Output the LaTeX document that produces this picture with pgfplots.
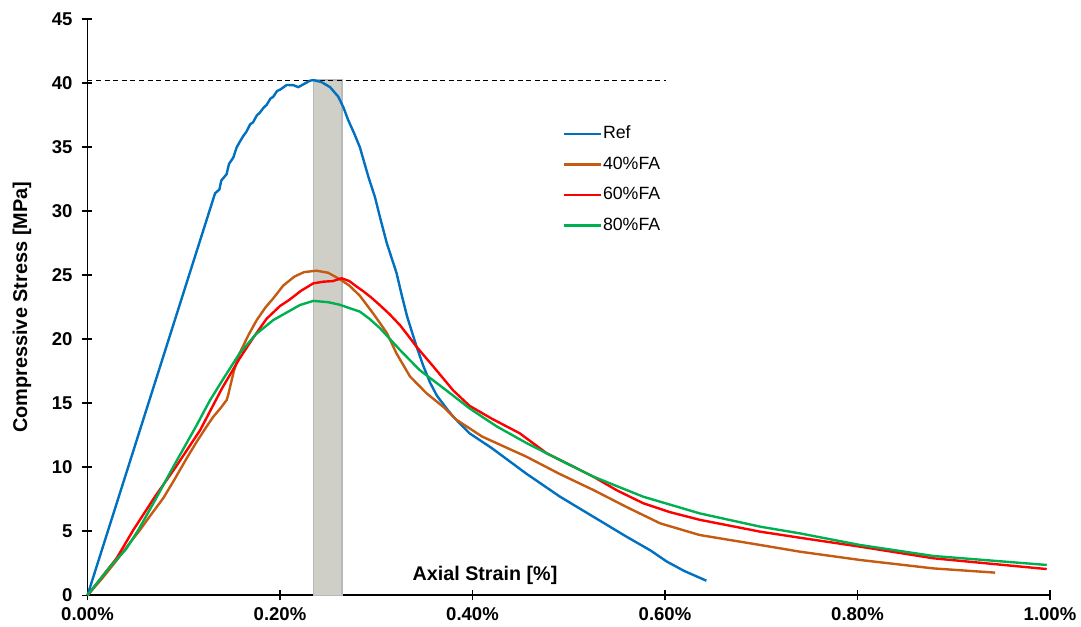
\documentclass[border=0pt]{standalone}
\usepackage{pgfplots}
\pgfplotsset{compat=1.18}
\usepackage{fontspec}
\setmainfont{Liberation Sans}
\definecolor{cRef}{RGB}{0,112,192}
\definecolor{c40}{RGB}{197,90,17}
\definecolor{c60}{RGB}{255,0,0}
\definecolor{c80}{RGB}{0,176,80}
\definecolor{band}{RGB}{208,207,199}
\begin{document}
\begin{tikzpicture}
\useasboundingbox (-43.75bp,-15.85bp) rectangle (496.75bp,297.65bp);
\begin{axis}[
  at={(0,0)}, anchor=south west,
  scale only axis, width=481.25bp, height=288bp,
  xmin=0, xmax=1, ymin=0, ymax=45,
  axis x line=bottom, axis y line=left,
  axis line style={-, line width=0.9bp},
  tick style={black, line width=0.8bp},
  major tick length=5bp, tick align=center,
  xtick={0,0.2,0.4,0.6,0.8,1.0},
  xticklabels={0.00\%,0.20\%,0.40\%,0.60\%,0.80\%,1.00\%},
  ytick={0,5,...,45},
  /pgf/number format/assume math mode=true,
  ticklabel style={font=\bfseries\fontsize{9.3}{10}\selectfont},
  yticklabel style={xshift=-1.5bp},
  xlabel={Axial Strain [\%]},
  ylabel={Compressive Stress [MPa]},
  every axis x label/.style={at={(rel axis cs:0.413,0.035)},anchor=center,font=\bfseries\fontsize{9.9}{11}\selectfont},
  every axis y label/.style={at={(rel axis cs:-0.068,0.5)},rotate=90,anchor=center,font=\bfseries\fontsize{10}{11}\selectfont},
  legend style={at={(rel axis cs:0.487,0.825)}, anchor=north west, draw=none, fill=none,
    font=\fontsize{8.9}{10}\selectfont, row sep=5.9bp,
    nodes={inner sep=0.5bp, text height=6.6bp, text depth=1.8bp}},
  legend cell align=left,
  legend image code/.code={\draw[#1] (0bp,0bp) -- (18.5bp,0bp);},
  clip=false,
]
\addplot[draw=gray!55, fill=band, line width=0.6bp, forget plot] coordinates {(0.2345,0) (0.2345,40.25) (0.2645,40.25) (0.2645,0)} -- cycle;
\addplot[black, line width=0.5bp, dash pattern=on 2.5bp off 1.8bp, forget plot] coordinates {(0,40.25) (0.601,40.25)};
\addplot[cRef, line width=1.2bp] coordinates {
(0,0) (0.1325,31.4) (0.137,31.7) (0.139,32.4) (0.1445,32.9) (0.147,33.7) (0.1515,34.2) (0.155,35.0) (0.158,35.4) (0.162,35.9) (0.165,36.2) (0.169,36.8) (0.172,36.95) (0.176,37.5) (0.179,37.7) (0.183,38.1) (0.186,38.3) (0.19,38.8) (0.193,38.95) (0.197,39.4) (0.2,39.5) (0.207,39.87) (0.214,39.85) (0.219,39.7) (0.231,40.2) (0.2346,40.25) (0.243,40.1) (0.252,39.7) (0.2606,38.95) (0.266,38.1) (0.271,37.1) (0.277,36.1) (0.283,35.0) (0.2918,32.7) (0.2987,31.1) (0.304,29.5) (0.311,27.5) (0.321,25.2) (0.326,23.6) (0.332,21.8) (0.342,19.4) (0.349,17.9) (0.356,16.6) (0.363,15.6) (0.373,14.6) (0.380,13.95) (0.397,12.65) (0.42,11.5) (0.456,9.5) (0.491,7.7) (0.5255,6.14) (0.560,4.58) (0.585,3.5) (0.602,2.63) (0.62,1.9) (0.643,1.14)
};
\addlegendentry{Ref}
\addplot[c40, line width=1.2bp] coordinates {
(0,0) (0.015,1.3) (0.03,2.7) (0.042,3.9) (0.0545,5.1) (0.065,6.2) (0.0788,7.6) (0.09,9.0) (0.103,10.7) (0.1135,12.0) (0.123,13.1) (0.1307,13.95) (0.138,14.6) (0.1446,15.26) (0.146,15.6) (0.152,17.5) (0.158,18.9) (0.167,20.3) (0.1758,21.5) (0.185,22.5) (0.193,23.2) (0.2034,24.2) (0.215,24.9) (0.225,25.25) (0.238,25.36) (0.25,25.2) (0.262,24.7) (0.272,24.2) (0.283,23.4) (0.297,22.0) (0.311,20.5) (0.321,18.9) (0.335,17.1) (0.352,15.8) (0.370,14.7) (0.3836,13.7) (0.41,12.4) (0.456,10.83) (0.49,9.5) (0.5255,8.23) (0.56,6.9) (0.595,5.62) (0.636,4.71) (0.699,3.93) (0.740,3.41) (0.8026,2.76) (0.879,2.1) (0.943,1.77)
};
\addlegendentry{40\%FA}
\addplot[c60, line width=1.2bp] coordinates {
(0,0) (0.0303,2.9) (0.0476,5.1) (0.07,7.7) (0.0915,10.0) (0.117,12.9) (0.14,16.2) (0.158,18.5) (0.172,20.1) (0.186,21.6) (0.2,22.6) (0.21,23.1) (0.222,23.8) (0.2346,24.37) (0.245,24.5) (0.255,24.55) (0.264,24.77) (0.272,24.55) (0.28,24.1) (0.2866,23.75) (0.295,23.25) (0.304,22.65) (0.314,21.95) (0.3247,21.1) (0.333,20.3) (0.342,19.4) (0.359,17.9) (0.380,16.0) (0.397,14.8) (0.42,13.8) (0.449,12.66) (0.477,11.1) (0.5255,9.27) (0.55,8.2) (0.5775,7.19) (0.605,6.5) (0.636,5.9) (0.699,4.97) (0.740,4.5) (0.8026,3.8) (0.879,2.89) (0.9966,2.05)
};
\addlegendentry{60\%FA}
\addplot[c80, line width=1.2bp] coordinates {
(0,0) (0.0234,2.23) (0.04,3.6) (0.0528,5.1) (0.07,7.4) (0.0892,10.05) (0.1135,13.3) (0.127,15.2) (0.141,16.9) (0.158,18.9) (0.175,20.4) (0.193,21.5) (0.2208,22.68) (0.2346,23.0) (0.25,22.9) (0.262,22.7) (0.283,22.16) (0.293,21.6) (0.304,20.86) (0.3247,19.16) (0.345,17.6) (0.373,16.0) (0.397,14.6) (0.425,13.2) (0.456,11.9) (0.49,10.6) (0.5255,9.27) (0.5775,7.7) (0.636,6.4) (0.699,5.36) (0.740,4.84) (0.8026,3.93) (0.879,3.07) (0.9966,2.37)
};
\addlegendentry{80\%FA}
\end{axis}
\end{tikzpicture}
\end{document}
